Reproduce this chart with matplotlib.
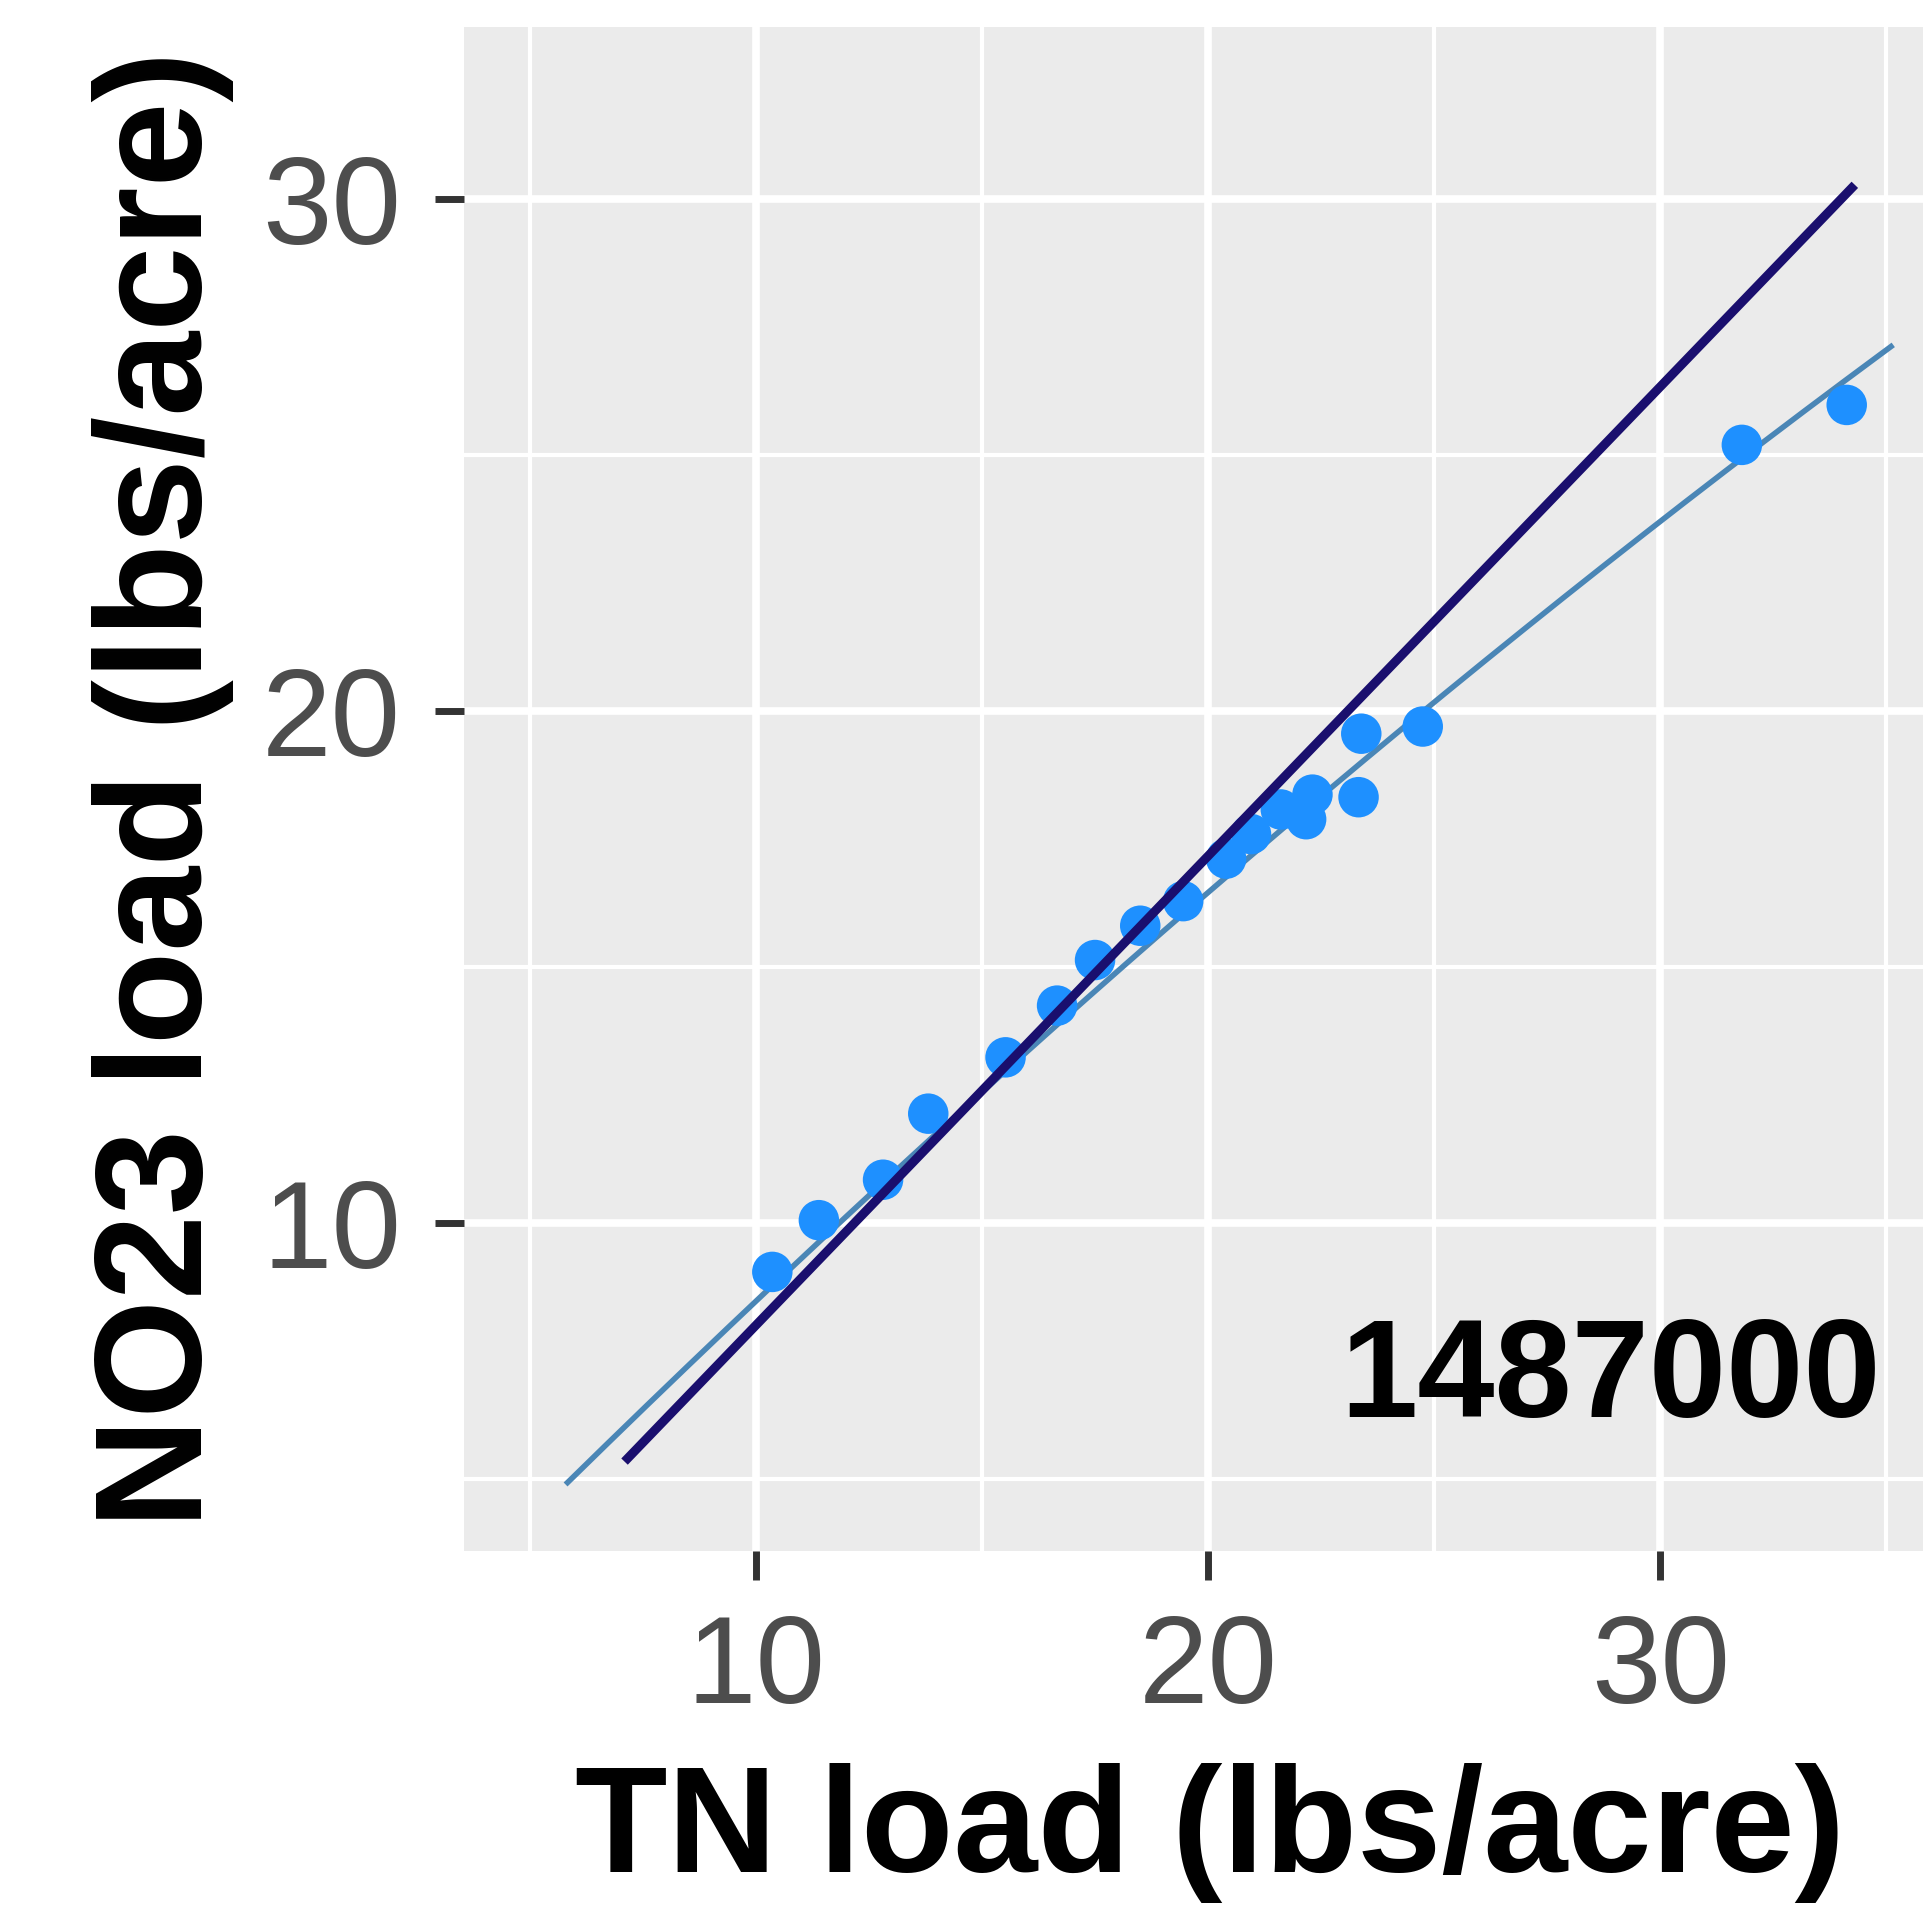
import numpy as np
import matplotlib
matplotlib.use("Agg")
import matplotlib.pyplot as plt

# Annual loads at station 1487000 (lbs/acre)
tn_load = [10.35, 11.38, 12.8, 13.8, 15.51, 16.65, 17.49, 18.49, 19.44, 20.39,
           20.94, 21.6, 22.16, 22.3, 23.32, 23.38, 24.74, 31.8, 34.12]
no23_load = [9.04, 10.05, 10.84, 12.13, 13.23, 14.24, 15.13, 15.8, 16.28, 17.11,
             17.59, 18.07, 17.88, 18.36, 18.31, 19.55, 19.69, 25.19, 25.97]

# Smoothed fit (quadratic coefficients c0, c1, c2) and its x-range
fit_coef = [-0.232, 0.9078, -0.00367]
fit_range = [5.82, 35.1]
# Reference relation (slope, intercept) and its x-range
ref_coef = [0.916, -1.15]
ref_range = [7.15, 34.23]

station = "1487000"
x_ticks = [10, 20, 30]
y_ticks = [10, 20, 30]

plt.rcParams["font.family"] = ["Liberation Sans", "DejaVu Sans"]

W, H = 1923, 1914
fig = plt.figure(figsize=(W / 100, H / 100), dpi=100)
ax_left, ax_right = 463.6, 1957.0
ax = fig.add_axes([ax_left / W, 363 / H, (ax_right - ax_left) / W, (1551 - 27) / H])
ax.set_facecolor("#EBEBEB")
ax.set_xlim(3.52, 3.52 + (ax_right - ax_left) / 45.2)
ax.set_ylim(3.59, 33.35)

ax.set_xticks(x_ticks)
ax.set_yticks(y_ticks)
ax.set_xticks([5, 15, 25, 35], minor=True)
ax.set_yticks([5, 15, 25], minor=True)
ax.grid(which="major", color="white", linewidth=5.5)
ax.grid(which="minor", color="white", linewidth=3)
ax.set_axisbelow(True)
for s in ax.spines.values():
    s.set_visible(False)
ax.tick_params(which="minor", length=0)
ax.tick_params(which="major", length=21, width=5, color="#333333",
               labelsize=90, labelcolor="#4D4D4D")
ax.tick_params(axis="y", pad=24)
ax.tick_params(axis="x", pad=24)

xf = np.linspace(fit_range[0], fit_range[1], 200)
ax.plot(xf, fit_coef[0] + fit_coef[1] * xf + fit_coef[2] * xf ** 2,
        color="#4A86B6", linewidth=4, zorder=2)
ax.scatter(tn_load, no23_load, s=850, color="#1E90FF", edgecolors="none", zorder=3)
xr = np.array(ref_range)
ax.plot(xr, ref_coef[0] * xr + ref_coef[1], color="#1A0F6E", linewidth=6.5, zorder=4)

ax.text(1611 / W, 1 - 1417 / H, station, transform=fig.transFigure, ha="center",
        va="baseline", fontsize=100, fontweight="bold", color="black")

ax.set_xlabel("TN load (lbs/acre)", fontsize=109, fontweight="bold", labelpad=24)
ax.set_ylabel("NO23 load (lbs/acre)", fontsize=110, fontweight="bold", labelpad=20)

fig.savefig("out.png", dpi=100, facecolor="white")
